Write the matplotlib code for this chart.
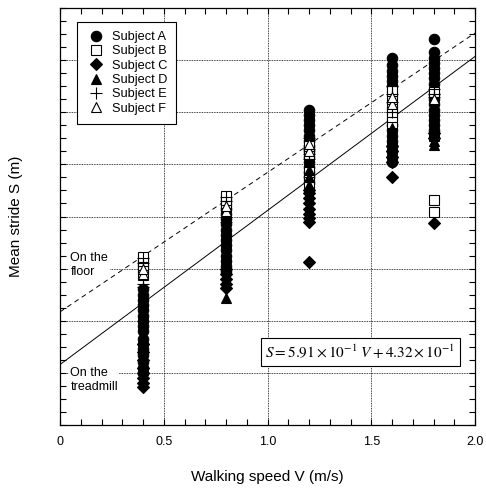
import matplotlib
matplotlib.use('Agg')
import matplotlib.pyplot as plt
from matplotlib.lines import Line2D
import numpy as np

plt.rcParams['font.family'] = ['Liberation Sans', 'DejaVu Sans']
plt.rcParams['mathtext.fontset'] = 'stix'

speeds = [0.4, 0.8, 1.2, 1.6, 1.8]

# mean stride per trial (m), one list per walking speed
subject_a = [
    [0.40, 0.42, 0.44, 0.47, 0.49, 0.51, 0.53, 0.56, 0.58, 0.60, 0.62, 0.64, 0.66, 0.68, 0.70, 0.72],
    [0.79, 0.81, 0.83, 0.85, 0.87, 0.89, 0.91, 0.93, 0.95, 0.97, 0.99, 1.01, 1.03],
    [1.13, 1.15, 1.17, 1.19, 1.21, 1.23, 1.25, 1.27, 1.29, 1.31, 1.33, 1.35, 1.37, 1.39, 1.41],
    [1.21, 1.23, 1.25, 1.27, 1.29, 1.31, 1.33, 1.35, 1.50, 1.52, 1.54, 1.56, 1.58, 1.61],
    [1.33, 1.35, 1.37, 1.39, 1.41, 1.43, 1.45, 1.47, 1.51, 1.53, 1.55, 1.57, 1.59, 1.61, 1.63, 1.68],
]
subject_b = [
    [0.776, 0.80, 0.815, 0.83, 0.845],
    [1.035, 1.05, 1.065, 1.079],
    [1.13, 1.15, 1.17, 1.24, 1.26, 1.27],
    [1.36, 1.38, 1.40, 1.42, 1.45, 1.48],
    [1.017, 1.063, 1.313, 1.478],
]
subject_c = [
    [0.346, 0.36, 0.38, 0.40, 0.42, 0.45, 0.48, 0.51],
    [0.726, 0.74, 0.76, 0.78, 0.80],
    [0.825, 0.979, 0.995, 1.01, 1.03, 1.05, 1.07, 1.09, 1.10],
    [1.152, 1.209, 1.23, 1.25, 1.27],
    [0.975, 1.30, 1.32],
]
subject_d = [
    [0.62, 0.66, 0.70],
    [0.687, 0.80, 0.85, 0.90],
    [1.12, 1.15, 1.18],
    [1.26, 1.30, 1.34],
    [1.274, 1.29, 1.31],
]
subject_e = [
    [0.73, 0.74, 0.82, 0.84],
    [0.98, 1.00, 1.06, 1.075],
    [1.22, 1.24, 1.26, 1.30],
    [1.40, 1.44, 1.47, 1.50],
    [1.46, 1.47, 1.49],
]
subject_f = [
    [0.78, 0.80],
    [1.02, 1.04],
    [1.25, 1.28],
    [1.43, 1.46],
    [1.45],
]

# regression lines: treadmill (solid) and floor (dashed)
treadmill_slope, treadmill_icpt = 0.591, 0.432
floor_slope, floor_icpt = 0.535, 0.634

subjects = [
    ('Subject A', subject_a, 'o', 'black', 7.5),
    ('Subject B', subject_b, 's', 'white', 7),
    ('Subject C', subject_c, 'D', 'black', 6.5),
    ('Subject D', subject_d, '^', 'black', 7.5),
    ('Subject E', subject_e, '+', 'black', 8),
    ('Subject F', subject_f, '^', 'white', 6.5),
]

fig = plt.figure(figsize=(4.86, 4.88), dpi=100)
ax = fig.add_axes([60 / 486, 1 - 425 / 488, 415 / 486, 417 / 488])

vline = np.array([0.0, 2.0])
ax.plot(vline, treadmill_slope * vline + treadmill_icpt, color='black', lw=0.7, zorder=2)
ax.plot(vline, floor_slope * vline + floor_icpt, color='black', lw=0.7,
        linestyle=(0, (5, 4)), zorder=2)

handles = []
for name, vals, mk, face, ms in subjects:
    xs = []
    ys = []
    for v, row in zip(speeds, vals):
        xs += [v] * len(row)
        ys += row
    ax.plot(xs, ys, linestyle='none', marker=mk, markersize=ms, markerfacecolor=face,
            markeredgecolor='black', markeredgewidth=0.8, zorder=3)
    handles.append(Line2D([], [], linestyle='none', marker=mk, markersize=ms,
                          markerfacecolor=face, markeredgecolor='black',
                          markeredgewidth=0.8, label=name))

ax.set_xlim(0, 2.0)
ax.set_ylim(0.2, 1.8)
ax.set_xticks([0, 0.5, 1.0, 1.5, 2.0])
ax.set_xticklabels(['0', '0.5', '1.0', '1.5', '2.0'])
ax.set_xticks(np.arange(0, 2.01, 0.1), minor=True)
ax.set_yticks(np.arange(0.2, 1.81, 0.2))
ax.set_yticks(np.arange(0.2, 1.81, 0.05), minor=True)
ax.set_yticklabels([])
ax.tick_params(which='both', direction='in', top=True, right=True, length=4,
               width=0.8, labelsize=9, pad=8)
ax.grid(True, which='major', linestyle=(0, (1, 1)), color='black', lw=0.6)
for sp in ax.spines.values():
    sp.set_linewidth(0.9)

ax.set_xlabel('Walking speed V (m/s)', fontsize=11, va='center')
ax.xaxis.set_label_coords(0.5, -0.125)
ax.set_ylabel('Mean stride S (m)', fontsize=11, va='center')
ax.yaxis.set_label_coords(-0.105, 0.5)

ax.text(0.05, 0.814, 'On the\nfloor', fontsize=9, va='center', ha='left',
        linespacing=1.2, bbox=dict(facecolor='white', edgecolor='none', pad=1), zorder=4)
ax.text(0.05, 0.373, 'On the\ntreadmill', fontsize=9, va='center', ha='left',
        linespacing=1.2, bbox=dict(facecolor='white', edgecolor='none', pad=1), zorder=4)

ax.text(1.446, 0.48, r'$S = 5.91\times10^{-1}\ V + 4.32\times10^{-1}$', fontsize=11,
        ha='center', va='center',
        bbox=dict(facecolor='white', edgecolor='black', lw=0.8, boxstyle='square,pad=0.3'),
        zorder=4)

leg = ax.legend(handles=handles, loc='upper left', bbox_to_anchor=(0.041, 0.966),
                fontsize=9.2, frameon=True, fancybox=False, framealpha=1,
                edgecolor='black', handletextpad=0.4, labelspacing=0.18,
                borderpad=0.7, handlelength=1.6, borderaxespad=0)
leg.get_frame().set_linewidth(0.8)
leg.set_zorder(5)

fig.savefig('out.png', dpi=100)
